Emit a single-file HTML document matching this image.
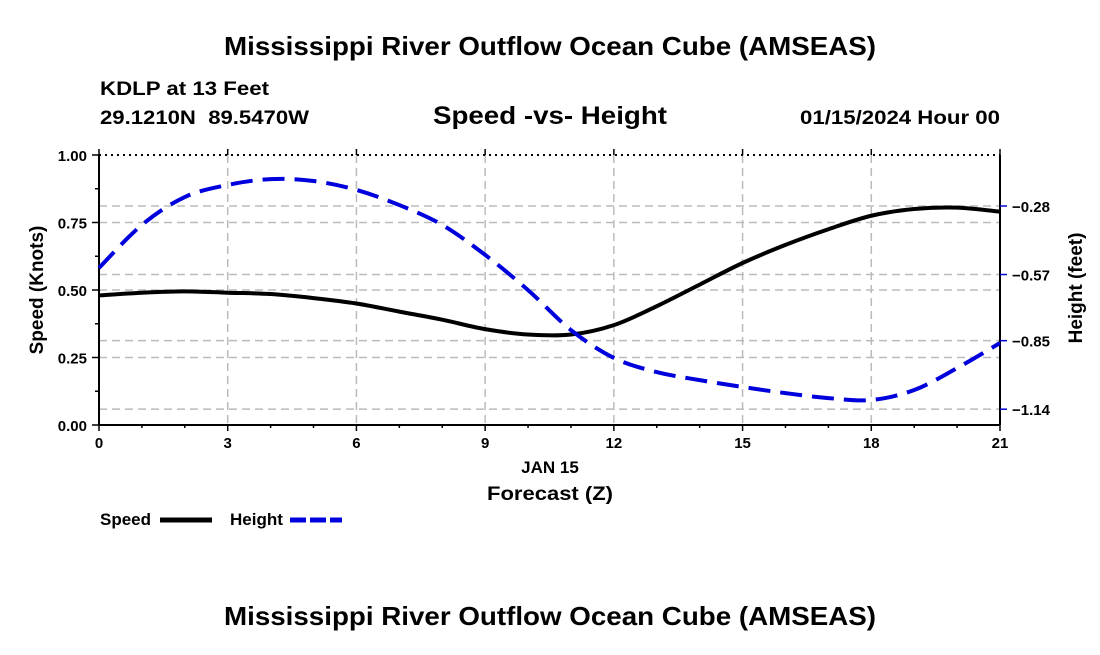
<!DOCTYPE html>
<html><head><meta charset="utf-8"><style>
body{margin:0;background:#fff;}
svg text{font-family:"Liberation Sans",sans-serif;font-weight:bold;fill:#000;}
</style></head><body>
<svg width="1100" height="650" xmlns="http://www.w3.org/2000/svg">
<text x="224" y="55" font-size="26" textLength="652" lengthAdjust="spacingAndGlyphs">Mississippi River Outflow Ocean Cube (AMSEAS)</text>
<text x="100" y="95" font-size="19" textLength="169" lengthAdjust="spacingAndGlyphs">KDLP at 13 Feet</text>
<text x="100" y="124" font-size="19" textLength="209" lengthAdjust="spacingAndGlyphs" xml:space="preserve">29.1210N  89.5470W</text>
<text x="433" y="124" font-size="25" textLength="234" lengthAdjust="spacingAndGlyphs">Speed -vs- Height</text>
<text x="800" y="124" font-size="19" textLength="200" lengthAdjust="spacingAndGlyphs">01/15/2024 Hour 00</text>
<g id="grid"></g>
<g id="axes"></g>
<g id="series"></g>
<text x="550" y="473" font-size="17" text-anchor="middle">JAN 15</text>
<text x="487" y="500" font-size="19" textLength="126" lengthAdjust="spacingAndGlyphs">Forecast (Z)</text>
<text transform="translate(43,290) rotate(-90)" font-size="19" text-anchor="middle">Speed (Knots)</text>
<text transform="translate(1082,288) rotate(-90)" font-size="19" text-anchor="middle">Height (feet)</text>
<g><text x="100" y="525" font-size="17">Speed</text><line x1="160" y1="520" x2="212" y2="520" stroke="#000" stroke-width="5"/></g>
<g><text x="230" y="525" font-size="17">Height</text><line x1="290" y1="520" x2="342" y2="520" stroke="#0000dd" stroke-width="5" stroke-dasharray="16,4"/></g>
<text x="224" y="625" font-size="26" textLength="652" lengthAdjust="spacingAndGlyphs">Mississippi River Outflow Ocean Cube (AMSEAS)</text>
</svg>
<script>
const hours=[0,1,2,3,4,5,6,7,8,9,10,11,12,13,14,15,16,17,18,19,20,21];
const speed=[0.48,0.49,0.495,0.49,0.485,0.47,0.45,0.42,0.39,0.355,0.335,0.335,0.37,0.44,0.52,0.60,0.667,0.725,0.775,0.80,0.805,0.79];
const height=[-0.542,-0.360,-0.242,-0.191,-0.166,-0.174,-0.212,-0.276,-0.360,-0.487,-0.636,-0.805,-0.923,-0.983,-1.017,-1.046,-1.072,-1.093,-1.101,-1.059,-0.966,-0.860];
const xTicks=[0,3,6,9,12,15,18,21];
const yTicks=[0,0.25,0.5,0.75,1.0];
const yTickLabels=["0.00","0.25","0.50","0.75","1.00"];
const y2Ticks=[-0.28,-0.57,-0.85,-1.14];
const y2TickLabels=["\u22120.28","\u22120.57","\u22120.85","\u22121.14"];
const L=99,R=1000,T=155,B=425;
const x=h=>L+(R-L)*h/21;
const y=v=>B-(B-T)*v;
const y2=v=>206+(-0.28-v)/0.2857*67.5;
const NS="http://www.w3.org/2000/svg";
function mk(p,t,a){const e=document.createElementNS(NS,t);for(const k in a)e.setAttribute(k,a[k]);p.appendChild(e);return e;}
const g=document.getElementById('grid'),ax=document.getElementById('axes'),s=document.getElementById('series');
const gs={stroke:"#bbb","stroke-width":1.5,"stroke-dasharray":"8,5"};
xTicks.forEach(h=>{if(h>0&&h<21){const l=mk(g,'line',Object.assign({x1:x(h),x2:x(h),y1:T,y2:B},gs));

}});
yTicks.forEach(v=>{if(v>0&&v<1){const l=mk(g,'line',Object.assign({x1:L,x2:R,y1:y(v),y2:y(v)},gs));

}});
y2Ticks.forEach(v=>{const l=mk(g,'line',Object.assign({x1:L,x2:R,y1:y2(v),y2:y2(v)},gs));

});
mk(ax,'line',{x1:L,x2:L,y1:T,y2:B,stroke:"#000","stroke-width":2});
mk(ax,'line',{x1:R,x2:R,y1:T,y2:B,stroke:"#000","stroke-width":2});
mk(ax,'line',{x1:L,x2:R,y1:B,y2:B,stroke:"#000","stroke-width":2});
mk(ax,'line',{x1:L,x2:R,y1:T,y2:T,stroke:"#000","stroke-width":2,"stroke-dasharray":"2,4"});
for(let h=0;h<=21;h++){mk(ax,'line',{x1:x(h),x2:x(h),y1:B,y2:B+(h%3?3:6),stroke:"#000","stroke-width":1.5});}
xTicks.forEach(h=>{mk(ax,'line',{x1:x(h),x2:x(h),y1:T,y2:T-6,stroke:"#000","stroke-width":1.5});
const t=mk(ax,'text',{x:x(h),y:B+23,"font-size":15,"text-anchor":"middle"});t.textContent=h;

});
for(let v=0;v<=1.001;v+=0.125){mk(ax,'line',{x1:L,x2:L-(Math.round(v*8)%2?4:7),y1:y(v),y2:y(v),stroke:"#000","stroke-width":1.5});}
yTicks.forEach((v,i)=>{const t=mk(ax,'text',{x:L-12,y:y(v)+6,"font-size":15,"text-anchor":"end"});t.textContent=yTickLabels[i];

});
y2Ticks.forEach((v,i)=>{mk(ax,'line',{x1:R,x2:R+7,y1:y2(v),y2:y2(v),stroke:"#0000dd","stroke-width":1.5});
const t=mk(ax,'text',{x:R+12,y:y2(v)+6,"font-size":15});t.textContent=y2TickLabels[i];

});
function path(pts){let d=`M${pts[0][0]},${pts[0][1]}`;for(let i=0;i<pts.length-1;i++){const p0=pts[Math.max(0,i-1)],p1=pts[i],p2=pts[i+1],p3=pts[Math.min(pts.length-1,i+2)];
d+=` C${p1[0]+(p2[0]-p0[0])/6},${p1[1]+(p2[1]-p0[1])/6} ${p2[0]-(p3[0]-p1[0])/6},${p2[1]-(p3[1]-p1[1])/6} ${p2[0]},${p2[1]}`;}return d;}
const sp=mk(s,'path',{d:path(hours.map((h,i)=>[x(h),y(speed[i])])),fill:"none",stroke:"#000","stroke-width":4});


const hp=mk(s,'path',{d:path(hours.map((h,i)=>[x(h),y2(height[i])])),fill:"none",stroke:"#0000dd","stroke-width":4,"stroke-dasharray":"22,10"});


</script>
</body></html>
